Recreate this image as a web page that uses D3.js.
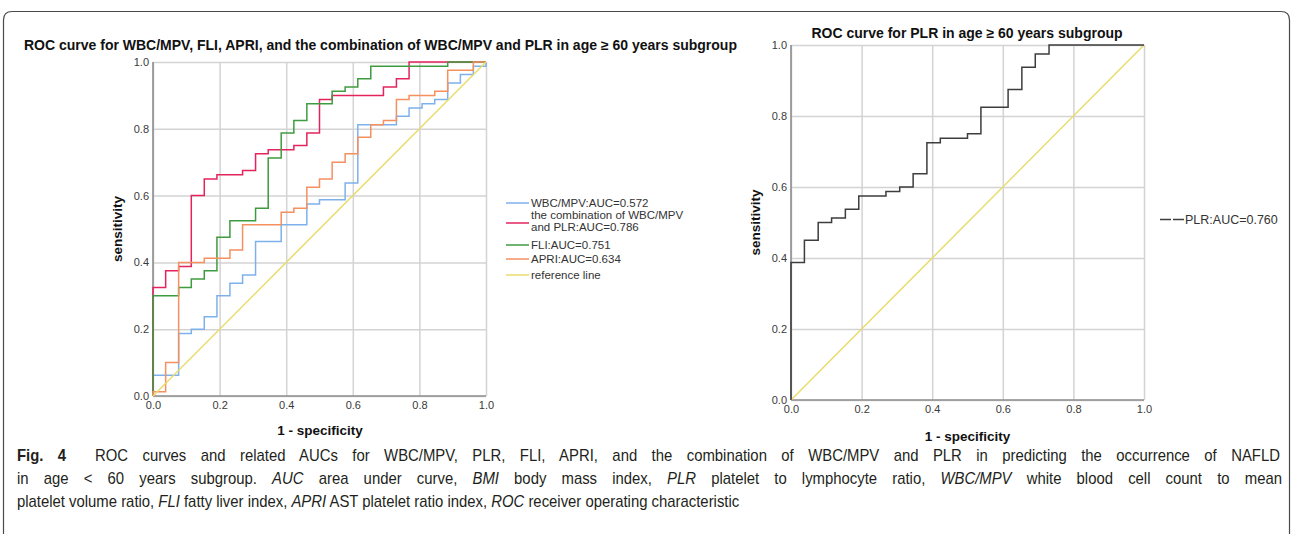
<html lang='en'>
	<head>
		<title>ROC curves age 60 subgroup</title>
		<script src="https://d3js.org/d3.v7.min.js" charset="utf-8"></script>
		<style type="text/css">
			body{
				margin: 0;
				background: #fff;
				font-family: "Liberation Sans", Arial, sans-serif;
			}
			.tick text{
				font-size: 11px;
				fill: #3a3a3a;
			}
			.title, .axis-label{
				font-weight: bold;
				fill: #111;
			}
			.legend text{
				fill: #333;
			}
			.caption{
				font-family: "Liberation Sans", Arial, sans-serif;
				font-size: 16px;
				fill: #231f20;
			}
		</style>
	</head>
	<body>
		<div class="main"></div>

		<script>
			// tick values shared by both panels
			var xTicks = [0, 0.2, 0.4, 0.6, 0.8, 1.0]
			var yTicks = [0, 0.2, 0.4, 0.6, 0.8, 1.0]

			// left panel: WBC/MPV, combination, FLI, APRI (1 - specificity / sensitivity)
			var wbcFpr = [0, 0.077, 0.115, 0.154, 0.192, 0.231, 0.269, 0.308, 0.385, 0.462, 0.5, 0.577, 0.615, 0.731, 0.769, 0.808, 0.846, 0.885, 0.923, 0.962, 1, 1]
			var wbcTpr = [0, 0.0625, 0.1875, 0.2, 0.2375, 0.3, 0.3375, 0.3625, 0.4625, 0.5125, 0.575, 0.5875, 0.6375, 0.8125, 0.8375, 0.8625, 0.875, 0.8875, 0.9375, 0.9625, 0.9875, 1]

			var comboFpr = [0, 0.038, 0.077, 0.115, 0.154, 0.192, 0.269, 0.308, 0.346, 0.423, 0.462, 0.5, 0.538, 0.692, 0.731, 0.769, 1]
			var comboTpr = [0, 0.325, 0.375, 0.3875, 0.6, 0.65, 0.6625, 0.675, 0.725, 0.7375, 0.75, 0.7875, 0.8875, 0.9, 0.925, 0.95, 1]

			var fliFpr = [0, 0.077, 0.115, 0.154, 0.192, 0.231, 0.308, 0.346, 0.385, 0.423, 0.462, 0.538, 0.577, 0.615, 0.654, 0.885, 1]
			var fliTpr = [0, 0.3, 0.325, 0.35, 0.375, 0.475, 0.525, 0.5625, 0.7125, 0.7875, 0.825, 0.875, 0.9125, 0.925, 0.95, 0.9875, 1]

			var apriFpr = [0, 0.038, 0.077, 0.154, 0.231, 0.269, 0.385, 0.423, 0.462, 0.5, 0.538, 0.577, 0.615, 0.654, 0.692, 0.731, 0.769, 0.846, 0.885, 0.962, 1]
			var apriTpr = [0, 0.0125, 0.1, 0.4, 0.4125, 0.4375, 0.5125, 0.55, 0.5625, 0.625, 0.65, 0.7, 0.725, 0.775, 0.8125, 0.825, 0.8875, 0.9, 0.9125, 0.975, 1]

			// right panel: PLR
			var plrFpr = [0, 0.038, 0.077, 0.115, 0.154, 0.192, 0.269, 0.308, 0.346, 0.385, 0.423, 0.5, 0.538, 0.615, 0.654, 0.692, 0.731, 1]
			var plrTpr = [0, 0.3875, 0.45, 0.5, 0.5125, 0.5375, 0.575, 0.5875, 0.6, 0.6375, 0.725, 0.7375, 0.75, 0.825, 0.875, 0.9375, 0.975, 1]

			var refFpr = [0, 1]
			var refTpr = [0, 1]

			var leftNames = ["WBC/MPV:AUC=0.572", "the combination of WBC/MPV|and PLR:AUC=0.786", "FLI:AUC=0.751", "APRI:AUC=0.634", "reference line"]
			var leftColors = ["#7eb1ec", "#e3245c", "#3f9b3f", "#f5905f", "#e8dc6c"]
			var rightNames = ["PLR:AUC=0.760"]
			var rightColors = ["#3d3d3d"]

			var leftTitle = "ROC curve for WBC/MPV, FLI, APRI, and the combination of WBC/MPV and PLR in age \u2265 60 years subgroup"
			var rightTitle = "ROC curve for PLR in age \u2265 60 years subgroup"

			var captionLines = [
				[["Fig. 4", "b"], ["  ROC curves and related AUCs for WBC/MPV, PLR, FLI, APRI, and the combination of WBC/MPV and PLR in predicting the occurrence of NAFLD", ""]],
				[["in age < 60 years subgroup. ", ""], ["AUC", "i"], [" area under curve, ", ""], ["BMI", "i"], [" body mass index, ", ""], ["PLR", "i"], [" platelet to lymphocyte ratio, ", ""], ["WBC/MPV", "i"], [" white blood cell count to mean", ""]],
				[["platelet volume ratio, ", ""], ["FLI", "i"], [" fatty liver index, ", ""], ["APRI", "i"], [" AST platelet ratio index, ", ""], ["ROC", "i"], [" receiver operating characteristic", ""]]
			]
			// right end of each caption line; first two are justified, last one is natural
			var captionWidths = [1264, 1266, 723]
			var captionJustify = [true, true, false]

			var width = 1293
			var height = 534

			var svg = d3.select(".main")
				.append("svg")
				.attr("width", width)
				.attr("height", height)

			// figure frame (rounded top corners)
			svg.append("path")
				.attr("d", "M3.5,534 V20 Q3.5,11.5 12,11.5 H1281 Q1289.5,11.5 1289.5,20 V534")
				.attr("fill", "none")
				.attr("stroke", "#4a4a4a")
				.attr("stroke-width", 1.2)

			function panel(x0, x1, y0, y1){
				var x = d3.scaleLinear().domain([0, 1]).range([x0, x1])
				var y = d3.scaleLinear().domain([0, 1]).range([y0, y1])
				var g = svg.append("g")

				g.append("g")
					.attr("transform", "translate(0," + y0 + ")")
					.call(d3.axisBottom(x).tickValues(xTicks).tickFormat(d3.format(".1f"))
						.tickSize(-(y0 - y1)).tickPadding(5.5))
				g.append("g")
					.attr("transform", "translate(" + x0 + ",0)")
					.call(d3.axisLeft(y).tickValues(yTicks).tickFormat(d3.format(".1f"))
						.tickSize(-(x1 - x0)).tickPadding(4))
				g.selectAll(".domain").remove()
				g.selectAll(".tick line")
					.attr("stroke", "#d3d3d3")
					.attr("stroke-width", 1.5)

				// axis lines at zero
				g.append("line")
					.attr("x1", x(0)).attr("x2", x(0))
					.attr("y1", y(0)).attr("y2", y(1))
					.attr("stroke", "#8e8e8e").attr("stroke-width", 1.6)
				g.append("line")
					.attr("x1", x(0)).attr("x2", x(1))
					.attr("y1", y(0)).attr("y2", y(0))
					.attr("stroke", "#8e8e8e").attr("stroke-width", 1.6)

				return {g: g, x: x, y: y}
			}

			function curve(p, fpr, tpr, color, stepped){
				var line = d3.line()
					.x(function(d){ return p.x(d[0]) })
					.y(function(d){ return p.y(d[1]) })
					.curve(stepped ? d3.curveStepBefore : d3.curveLinear)
				p.g.append("path")
					.datum(d3.zip(fpr, tpr))
					.attr("d", line)
					.attr("fill", "none")
					.attr("stroke", color)
					.attr("stroke-width", 1.5)
			}

			// left panel
			var left = panel(153, 486, 396, 62)
			curve(left, wbcFpr, wbcTpr, leftColors[0], true)
			curve(left, comboFpr, comboTpr, leftColors[1], true)
			curve(left, fliFpr, fliTpr, leftColors[2], true)
			curve(left, apriFpr, apriTpr, leftColors[3], true)
			curve(left, refFpr, refTpr, leftColors[4], false)

			// right panel
			var right = panel(791, 1144, 400, 45)
			curve(right, refFpr, refTpr, "#e8dc6c", false)
			curve(right, plrFpr, plrTpr, rightColors[0], true)

			// titles
			svg.append("text")
				.attr("class", "title")
				.attr("x", 24).attr("y", 50)
				.style("font-size", "14px")
				.text(leftTitle)
			svg.append("text")
				.attr("class", "title")
				.attr("x", 967).attr("y", 38)
				.attr("text-anchor", "middle")
				.style("font-size", "14px")
				.text(rightTitle)

			// axis labels
			var axisLabels = [
				{x: 320, y: 435, t: "1 - specificity", r: 0},
				{x: 967.5, y: 441, t: "1 - specificity", r: 0},
				{x: 117, y: 229, t: "sensitivity", r: -90},
				{x: 755, y: 222.5, t: "sensitivity", r: -90}
			]
			svg.selectAll(".axis-label")
				.data(axisLabels)
				.enter()
				.append("text")
				.attr("class", "axis-label")
				.attr("text-anchor", "middle")
				.attr("transform", function(d){ return "translate(" + d.x + "," + d.y + ") rotate(" + d.r + ")" })
				.attr("dy", function(d){ return d.r ? "0.35em" : 0 })
				.style("font-size", "13.5px")
				.text(function(d){ return d.t })

			// left legend
			var legendRows = [203, 223, 245, 259, 275]
			var lg = svg.append("g").attr("class", "legend")
			leftNames.forEach(function(name, i){
				var yy = legendRows[i]
				lg.append("line")
					.attr("x1", 506).attr("x2", 529)
					.attr("y1", yy).attr("y2", yy)
					.attr("stroke", leftColors[i])
					.attr("stroke-width", 1.5)
				var parts = name.split("|")
				var t = lg.append("text")
					.attr("x", 531)
					.attr("y", parts.length > 1 ? yy - 4.5 : yy + 4)
					.style("font-size", "11.5px")
				parts.forEach(function(s, k){
					t.append("tspan")
						.attr("x", 531)
						.attr("dy", k ? 12 : 0)
						.text(s)
				})
			})

			// right legend
			var rg = svg.append("g").attr("class", "legend")
			rightNames.forEach(function(name, i){
				rg.append("line")
					.attr("x1", 1160).attr("x2", 1184)
					.attr("y1", 219.5).attr("y2", 219.5)
					.attr("stroke", rightColors[i])
					.attr("stroke-width", 1.3)
					.attr("stroke-dasharray", "11,2")
				rg.append("text")
					.attr("x", 1185).attr("y", 224)
					.style("font-size", "12.5px")
					.text(name)
			})

			// caption: condensed by a common horizontal squeeze, first lines justified
			var cap = svg.append("g")
			var capTexts = captionLines.map(function(parts){
				var t = cap.append("text")
					.attr("class", "caption")
					.attr("x", 0)
					.attr("y", 0)
					.attr("xml:space", "preserve")
				parts.forEach(function(p){
					t.append("tspan")
						.style("font-weight", p[1] == "b" ? "bold" : "normal")
						.style("font-style", p[1] == "i" ? "italic" : "normal")
						.text(p[0])
				})
				return t
			})
			var lastIdx = captionLines.length - 1
			var squeeze = captionWidths[lastIdx] / capTexts[lastIdx].node().getComputedTextLength()
			capTexts.forEach(function(t, i){
				if(captionJustify[i]){
					var full = t.text()
					var spaces = full.split(" ").length - 1
					var natural = t.node().getComputedTextLength()
					var extra = (captionWidths[i] / squeeze - natural) / spaces
					t.style("word-spacing", extra + "px")
				}
				t.attr("transform", "translate(17," + (461 + i * 23) + ") scale(" + squeeze + ",1)")
			})
		</script>
	</body>
</html>
